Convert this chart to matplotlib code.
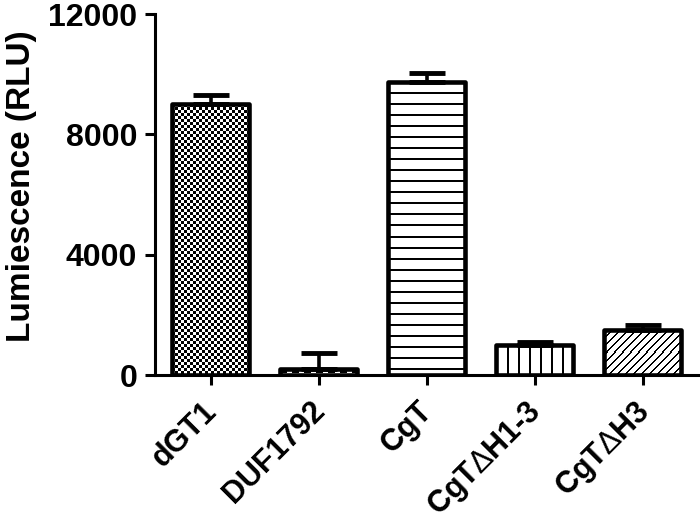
import numpy as np
import matplotlib
matplotlib.use("Agg")
import matplotlib.pyplot as plt
from matplotlib.transforms import ScaledTranslation

plt.rcParams['font.family'] = ['Liberation Sans', 'DejaVu Sans']
plt.rcParams['font.weight'] = 'bold'
plt.rcParams['mathtext.fontset'] = 'custom'
plt.rcParams['mathtext.rm'] = 'Liberation Sans:normal'

categories = ['dGT1', 'DUF1792', 'CgT', r'CgT$\mathrm{\Delta}$H1-3', r'CgT$\mathrm{\Delta}$H3']
values = [9000, 200, 9750, 1000, 1500]
errors = [300, 550, 280, 100, 170]
patterns = ['checker', 'dash', 'hline', 'vline', 'diag']
yticks = [0, 4000, 8000, 12000]

W, H, DPI = 7.0, 5.24, 100
fig = plt.figure(figsize=(W, H), dpi=DPI)
ax = fig.add_axes([0.222, 0.284, 0.775, 0.689])

x = np.arange(len(categories))
ax.set_xlim(-0.51, 4.51)
ax.set_ylim(0, 12000)
bw = 0.71


def make_pattern(kind, h, w):
    i, j = np.mgrid[0:h, 0:w]
    if kind == 'checker':
        m = ((i // 3 + j // 3) % 2) == 0
    elif kind == 'hline':
        m = (i % 11) < 2
    elif kind == 'vline':
        m = (j % 11) < 2
    elif kind == 'diag':
        m = ((i + j) % 8) < 2
    elif kind == 'dash':
        m = ((i % 11) == 3) & ((j % 12) < 7)
    else:
        m = np.zeros((h, w), bool)
    img = np.ones((h, w, 3))
    img[m] = 0.0
    return img


bars = ax.bar(x, values, width=bw, facecolor='none', edgecolor='black',
              linewidth=3.3, joinstyle='round', zorder=3)

for b, kind in zip(bars, patterns):
    x0, y0 = b.get_x(), b.get_y()
    x1, y1 = x0 + b.get_width(), y0 + b.get_height()
    p0 = ax.transData.transform((x0, y0))
    p1 = ax.transData.transform((x1, y1))
    wpx = max(1, int(round(abs(p1[0] - p0[0]))))
    hpx = max(1, int(round(abs(p1[1] - p0[1]))))
    img = make_pattern(kind, hpx, wpx)
    im = ax.imshow(img, extent=(x0, x1, y0, y1), origin='upper',
                   interpolation='nearest', aspect='auto', zorder=2)
    im.set_clip_path(b)

ax.errorbar(x, values, yerr=[np.zeros(len(values)), errors], fmt='none',
            ecolor='black', elinewidth=2.6, capsize=13, capthick=3.5, zorder=2.5)

ax.set_xlim(-0.51, 4.51)
ax.set_ylim(0, 12000)

for s in ['top', 'right']:
    ax.spines[s].set_visible(False)
for s in ['left', 'bottom']:
    ax.spines[s].set_linewidth(2.2)

ax.set_yticks(yticks)
ax.set_yticklabels([str(v) for v in yticks], fontsize=23, fontweight='bold')
ax.tick_params(axis='y', length=7, width=2.2, pad=6)
ax.set_xticks(x)
ax.set_xticklabels(categories, rotation=45, ha='right', va='top',
                   rotation_mode='anchor', fontsize=22, fontweight='bold')
ax.tick_params(axis='x', length=7, width=2.2, pad=8)
off = ScaledTranslation(-0.09, 0.0, fig.dpi_scale_trans)
for lab in ax.get_xticklabels():
    lab.set_transform(lab.get_transform() + off)

ax.set_ylabel('Lumiescence (RLU)', fontsize=24, fontweight='bold')
ax.yaxis.set_label_coords(-0.219, 0.524)

fig.savefig('out.png', dpi=DPI)
